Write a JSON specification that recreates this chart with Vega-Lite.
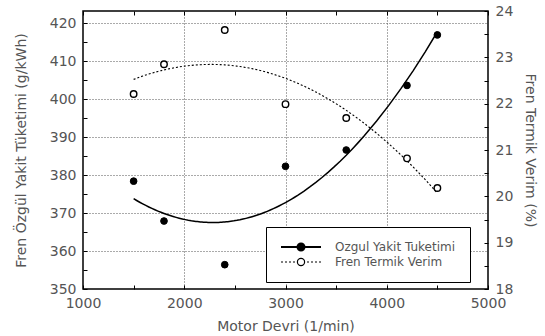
{
  "$schema": "https://vega.github.io/schema/vega-lite/v6.json",
  "width": 405,
  "height": 278,
  "autosize": {"type": "none"},
  "padding": {"left": 83, "top": 11, "right": 57, "bottom": 47},
  "data": {"values": [
    {"rpm": 1500, "bsfc": 378.4, "eff": 22.21},
    {"rpm": 1800, "bsfc": 367.9, "eff": 22.85},
    {"rpm": 2400, "bsfc": 356.4, "eff": 23.59},
    {"rpm": 3000, "bsfc": 382.3, "eff": 21.99},
    {"rpm": 3600, "bsfc": 386.6, "eff": 21.69},
    {"rpm": 4200, "bsfc": 403.6, "eff": 20.82},
    {"rpm": 4500, "bsfc": 416.9, "eff": 20.18}
  ]},
  "config": {
    "view": {"stroke": "black", "strokeWidth": 1.5},
    "font": "DejaVu Sans",
    "axis": {
      "labelFont": "DejaVu Sans", "labelFontSize": 14, "labelColor": "#555",
      "titleFont": "DejaVu Sans", "titleFontSize": 14, "titleFontWeight": "normal", "titleColor": "#555",
      "domain": false, "tickColor": "black", "tickSize": -4, "tickWidth": 1,
      "gridColor": "#555", "gridDash": [1, 2], "gridWidth": 1,
      "labelFlush": false, "labelOverlap": false
    },
    "legend": {
      "orient": "none", "legendX": 183, "legendY": 216,
      "fillColor": "white", "strokeColor": "black", "padding": 14,
      "labelFont": "DejaVu Sans", "labelFontSize": 12, "labelColor": "#555",
      "symbolSize": 1600, "symbolStrokeColor": "black", "symbolStrokeWidth": 1.3,
      "symbolOpacity": 1, "rowPadding": 1, "symbolOffset": 15, "labelOffset": 28
    }
  },
  "layer": [
    {
      "encoding": {
        "x": {"field": "rpm", "type": "quantitative",
          "scale": {"domain": [1000, 5000], "nice": false},
          "axis": {"orient": "bottom", "title": "Motor Devri (1/min)",
            "values": [1000, 1500, 2000, 2500, 3000, 3500, 4000, 4500, 5000],
            "labelExpr": "datum.value % 1000 == 0 ? datum.value : ''",
            "labelPadding": 11, "titlePadding": 9,
            "grid": true,
            "gridOpacity": {"condition": {"test": "datum.value % 1000 != 0 || datum.value == 1000 || datum.value == 5000", "value": 0}, "value": 1}}},
        "y": {"field": "bsfc", "type": "quantitative",
          "scale": {"domain": [350, 423.2], "nice": false, "zero": false},
          "axis": {"orient": "left", "title": "Fren Özgül Yakit Tüketimi (g/kWh)",
            "values": [350, 355, 360, 365, 370, 375, 380, 385, 390, 395, 400, 405, 410, 415, 420],
            "labelExpr": "datum.value % 10 == 0 ? datum.value : ''",
            "labelPadding": 11, "titlePadding": 21,
            "grid": true,
            "gridOpacity": {"condition": {"test": "datum.value % 10 != 0 || datum.value == 350", "value": 0}, "value": 1}}}
      },
      "layer": [
        {
          "transform": [{"regression": "bsfc", "on": "rpm", "method": "poly", "order": 2}],
          "mark": {"type": "line", "color": "black", "strokeWidth": 1.5}
        },
        {
          "mark": {"type": "point", "filled": true, "shape": "circle", "stroke": "black", "strokeWidth": 1, "size": 45, "opacity": 1},
          "encoding": {
            "fill": {"datum": "Ozgul Yakit Tuketimi",
              "scale": {"domain": ["Ozgul Yakit Tuketimi", "Fren Termik Verim"], "range": ["black", "white"]},
              "legend": {"title": null,
                "encode": {"symbols": {"update": {
                  "shape": {"signal": "datum.value == 'Ozgul Yakit Tuketimi' ? 'M-1,0L1,0M0.18,0A0.18,0.18,0,1,1,-0.18,0A0.18,0.18,0,1,1,0.18,0Z' : 'M-1,0L-0.9,0M-0.8,0L-0.7,0M-0.6,0L-0.5,0M-0.4,0L-0.3,0M0.3,0L0.4,0M0.5,0L0.6,0M0.7,0L0.8,0M0.9,0L1,0M0.18,0A0.18,0.18,0,1,1,-0.18,0A0.18,0.18,0,1,1,0.18,0Z'"},
                  "strokeWidth": {"signal": "datum.value == 'Ozgul Yakit Tuketimi' ? 1.8 : 1.2"},
                  "stroke": {"value": "black"},
                  "opacity": {"value": 1}
                }}}}}
          }
        }
      ]
    },
    {
      "encoding": {
        "x": {"field": "rpm", "type": "quantitative",
          "scale": {"domain": [1000, 5000], "nice": false},
          "axis": {"orient": "top", "title": null, "labels": false, "grid": false,
            "values": [1000, 1500, 2000, 2500, 3000, 3500, 4000, 4500, 5000]}},
        "y": {"field": "eff", "type": "quantitative",
          "scale": {"domain": [18, 24], "nice": false, "zero": false},
          "axis": {"orient": "right", "title": "Fren Termik Verim (%)",
            "values": [18, 18.5, 19, 19.5, 20, 20.5, 21, 21.5, 22, 22.5, 23, 23.5, 24],
            "labelExpr": "datum.value % 1 == 0 ? datum.value : ''",
            "labelPadding": 11, "titlePadding": 10, "grid": false}}
      },
      "layer": [
        {
          "transform": [{"regression": "eff", "on": "rpm", "method": "poly", "order": 2}],
          "mark": {"type": "line", "color": "black", "strokeWidth": 1.1, "strokeDash": [2, 2]}
        },
        {
          "mark": {"type": "point", "filled": true, "shape": "circle", "stroke": "black", "strokeWidth": 1.4, "size": 42, "opacity": 1},
          "encoding": {
            "fill": {"datum": "Fren Termik Verim"}
          }
        }
      ]
    }
  ],
  "resolve": {"scale": {"y": "independent"}, "axis": {"x": "independent", "y": "independent"}}
}
